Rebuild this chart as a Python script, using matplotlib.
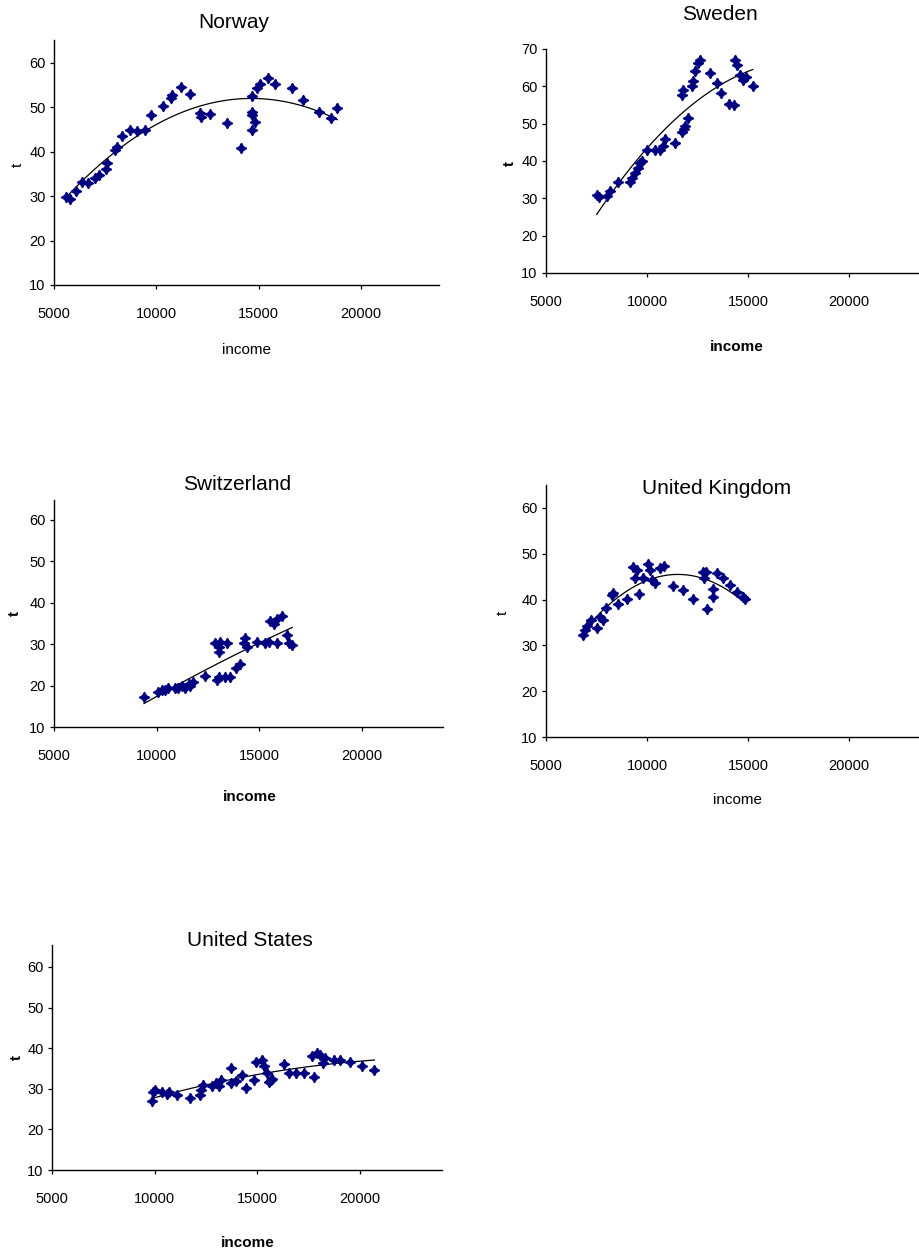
import numpy as np
import matplotlib
matplotlib.use("Agg")
import matplotlib.pyplot as plt

plt.rcParams['font.family'] = ['Liberation Sans', 'DejaVu Sans']

# income / t observations per country
norway_income = [5600, 5770, 6060, 6380, 6660, 7000, 7200, 7520, 7600, 7970,
                 8060, 8300, 8710, 9040, 9440, 9740, 10340, 10720, 10790, 11190,
                 11650, 12140, 12190, 12630, 13450, 14130, 14670, 14670, 14670, 14670,
                 14840, 14920, 15050, 15470, 15820, 16620, 17160, 17960, 18520, 18850]
norway_t = [29.9, 29.3, 31.2, 33.1, 33.0, 34.0, 34.7, 36.1, 37.4, 40.3,
            41.1, 43.4, 44.9, 44.7, 44.9, 48.3, 50.2, 52.1, 52.7, 54.5,
            53.0, 48.6, 47.8, 48.4, 46.4, 40.9, 52.4, 49.0, 48.2, 44.9,
            46.6, 54.3, 55.2, 56.5, 55.2, 54.2, 51.6, 48.8, 47.5, 49.7]

sweden_income = [7510, 7640, 8000, 8170, 8580, 9160, 9240, 9410, 9570, 9650,
                 9740, 9980, 10400, 10640, 10810, 10890, 11390, 11720, 11830, 11880,
                 12010, 11720, 11800, 12210, 12290, 12380, 12540, 12620, 13130, 13450,
                 13650, 14050, 14300, 14360, 14450, 14600, 14770, 14900, 15230]
sweden_t = [31.0, 30.4, 30.7, 31.9, 34.4, 34.3, 35.4, 36.8, 38.2, 39.5,
            40.0, 43.0, 43.0, 43.0, 44.0, 46.0, 44.8, 47.9, 48.6, 49.5,
            51.5, 57.8, 59.0, 60.2, 61.3, 64.0, 66.3, 67.0, 63.5, 60.9,
            58.2, 55.3, 55.0, 67.0, 65.8, 63.0, 61.8, 62.5, 60.2]

swiss_income = [9380, 10080, 10250, 10410, 10570, 10900, 11060, 11220, 11390, 11550,
                11630, 11790, 12360, 12930, 13010, 13340, 13580, 13880, 14070, 12850,
                13010, 13100, 13420, 13010, 14240, 14320, 14400, 14890, 15290, 15460,
                15860, 15540, 15700, 15860, 16110, 16350, 16440, 16600]
swiss_t = [17.3, 18.5, 18.9, 18.9, 19.3, 19.3, 19.5, 19.8, 19.5, 20.5,
           19.8, 20.9, 22.3, 21.3, 22.0, 22.1, 22.1, 24.3, 25.3, 30.2,
           29.4, 30.6, 30.2, 28.2, 30.2, 31.4, 29.4, 30.6, 30.2, 30.6,
           30.2, 35.6, 34.8, 36.0, 36.8, 32.3, 30.2, 29.8]

uk_income = [6820, 6930, 7050, 7210, 7540, 7670, 7800, 7970, 8250, 8330,
             8580, 8990, 9290, 9410, 9520, 9620, 9790, 10070, 10150, 10230,
             10400, 10640, 10840, 11270, 11770, 12260, 12760, 12820, 12920, 12950,
             13250, 13280, 13450, 13780, 14110, 14440, 14740, 14850]
uk_t = [32.2, 33.3, 34.2, 35.5, 33.7, 36.2, 35.5, 38.2, 40.9, 41.4,
        39.1, 40.2, 47.1, 44.6, 46.4, 41.3, 44.8, 47.7, 46.4, 44.2,
        43.6, 46.8, 47.3, 42.9, 42.0, 40.2, 46.0, 44.6, 46.0, 38.0,
        40.6, 42.4, 45.7, 44.6, 43.1, 41.7, 40.6, 40.2]

us_income = [9890, 9940, 10000, 10370, 10600, 10700, 11100, 11720, 12210, 12270,
             12370, 12810, 12970, 13130, 13250, 13700, 13730, 13940, 14270, 14430,
             14840, 14920, 15240, 15320, 15490, 15570, 15650, 15730, 16300, 16540,
             16870, 17270, 17680, 17760, 17900, 18050, 18210, 18290, 18730, 19020,
             19540, 20110, 20710]
us_t = [26.9, 29.3, 29.8, 29.3, 28.8, 29.1, 28.5, 27.7, 28.5, 29.7,
        31.0, 30.6, 31.4, 30.6, 32.2, 35.1, 31.4, 31.8, 33.4, 30.1,
        32.2, 36.7, 37.1, 35.5, 33.8, 31.7, 32.2, 32.5, 36.2, 33.8,
        33.8, 33.8, 38.1, 32.8, 38.7, 38.3, 36.3, 37.6, 37.0, 37.1,
        36.5, 35.5, 34.7]

x_ticks = [5000, 10000, 15000, 20000]

W, H = 920, 1254
fig = plt.figure(figsize=(W / 100, H / 100), dpi=100)


def px(x, y):
    return x / W, 1 - y / H


def panel(income, t, title, box, xmax, ylim, yticks, title_xy, xlab_xy, ylab_xy, bold):
    left, top, right, bottom = box
    ax = fig.add_axes([left / W, 1 - bottom / H, (right - left) / W, (bottom - top) / H])
    ax.plot(income, t, ls='none', marker=(4, 1, 0), ms=7.5, color='#000080',
            mec='#000080', zorder=3, clip_on=False)

    # 2nd order polynomial trend
    coef = np.polyfit(income, t, 2)
    xs = np.linspace(min(income), max(income), 200)
    ax.plot(xs, np.polyval(coef, xs), color='black', lw=0.9, zorder=2)

    ax.set_xlim(5000, xmax)
    ax.set_ylim(*ylim)
    ax.set_xticks(x_ticks)
    ax.set_yticks(yticks)
    ax.spines['top'].set_visible(False)
    ax.spines['right'].set_visible(False)
    for s in ('left', 'bottom'):
        ax.spines[s].set_linewidth(1.0)
    ax.tick_params(axis='both', direction='out', length=3, width=0.9, labelsize=10.5)
    ax.tick_params(axis='x', pad=13)
    ax.tick_params(axis='y', pad=3)

    weight = 'bold' if bold else 'normal'
    fig.text(*px(*title_xy), title, ha='center', va='center', fontsize=15)
    fig.text(*px(*xlab_xy), 'income', ha='center', va='center', fontsize=11,
             fontweight=weight)
    fig.text(*px(*ylab_xy), 't', ha='center', va='center', fontsize=11,
             fontweight=weight, rotation=90)
    return ax


panel(norway_income, norway_t, 'Norway', (54, 40, 439, 285), 23820, (10, 65.1),
      [10, 20, 30, 40, 50, 60], (234, 22), (247, 350), (18, 165), False)
panel(sweden_income, sweden_t, 'Sweden', (546, 49, 930, 273), 24000, (10, 70),
      [10, 20, 30, 40, 50, 60, 70], (720, 15), (737, 347), (510, 163), True)
panel(swiss_income, swiss_t, 'Switzerland', (54, 500, 443, 727), 23940, (10, 64.8),
      [10, 20, 30, 40, 50, 60], (237, 485), (250, 797), (15, 613), True)
panel(uk_income, uk_t, 'United Kingdom', (546, 485, 930, 737), 24000, (10, 65),
      [10, 20, 30, 40, 50, 60], (717, 489), (738, 800), (503, 613), False)
panel(us_income, us_t, 'United States', (52, 945, 442, 1170), 24000, (10, 65.4),
      [10, 20, 30, 40, 50, 60], (250, 941), (248, 1243), (17, 1058), True)

fig.savefig('out.png', dpi=100, facecolor='white')
